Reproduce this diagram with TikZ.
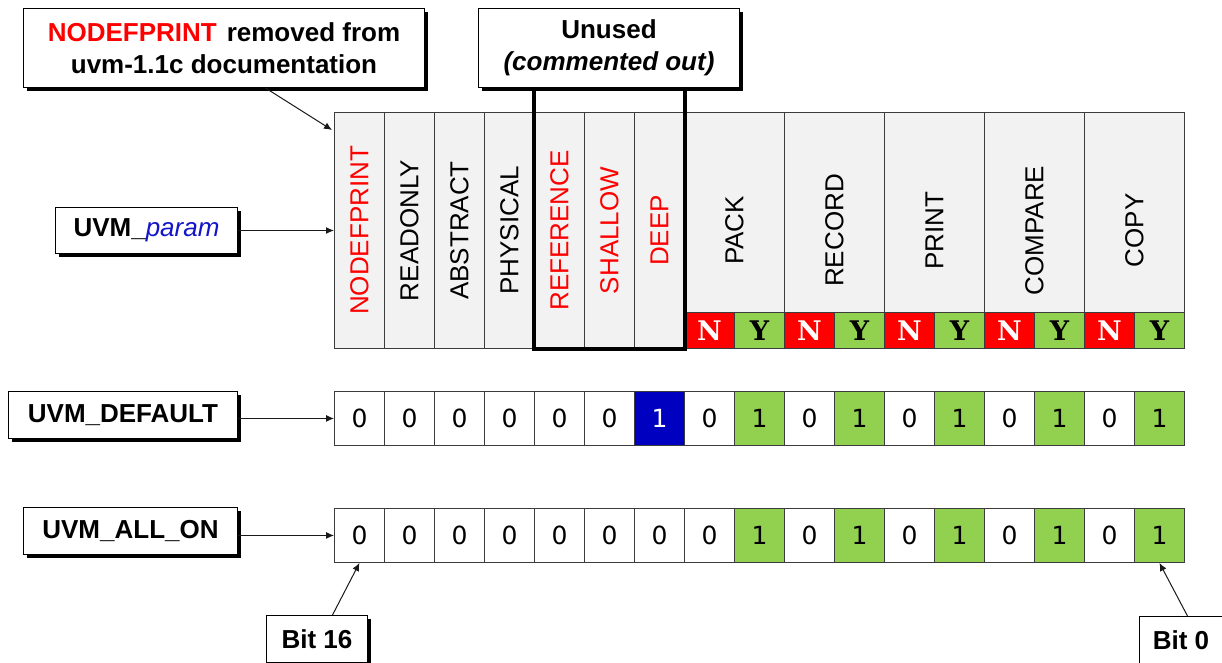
\documentclass[tikz,border=0pt]{standalone}
\usepackage{fontspec}
\setmainfont{Liberation Sans}
\newfontfamily\nyfont{DejaVu Serif}
\newfontfamily\bitfont{DejaVu Sans}
\usetikzlibrary{shadows,arrows.meta,calc}
\definecolor{cgreen}{RGB}{146,208,80}
\definecolor{cred}{RGB}{255,0,0}
\definecolor{cblue}{RGB}{0,0,192}
\definecolor{cgray}{RGB}{242,242,242}
\definecolor{cline}{RGB}{60,60,60}
\definecolor{ptxt}{RGB}{20,20,200}
\begin{document}
\begin{tikzpicture}[x=1pt,y=-1pt,
  labelbox/.style={draw=black, line width=1pt, fill=white, inner sep=0pt, align=center,
    anchor=north west, font=\bfseries\fontsize{26}{32}\selectfont,
    general shadow={fill=black, shadow xshift=3.5pt, shadow yshift=-3.5pt}},
  hcell/.style={draw=cline, line width=0.9pt, fill=cgray, inner sep=0pt, anchor=north west},
  htext/.style={rotate=90, inner sep=0pt, font=\fontsize{26}{30}\selectfont},
  nycell/.style={draw=cline, line width=0.9pt, inner sep=0pt, anchor=north west,
    minimum width=50pt, minimum height=36pt, font=\nyfont\bfseries\fontsize{27}{27}\selectfont},
  ncell/.style={nycell, fill=cred, text=white},
  ycell/.style={nycell, fill=cgreen, text=black},
  bitcell/.style={draw=cline, line width=0.9pt, inner sep=0pt, anchor=north west,
    minimum width=50pt, minimum height=54pt, font=\bitfont\fontsize{25}{25}\selectfont},
  bw/.style={fill=white}, bg/.style={fill=cgreen}, bb/.style={fill=cblue, text=white},
  conn/.style={draw=black!90, line width=1pt, -{Latex[length=8pt,width=7pt]}},
  thickbox/.style={line width=4pt, draw=black}
]
\useasboundingbox (0,0) rectangle (1222,662);
\clip (0,0) rectangle (1222,662);

% header: narrow columns
\foreach \lab/\col [count=\i from 0] in {NODEFPRINT/cred, READONLY/black, ABSTRACT/black, PHYSICAL/black, REFERENCE/cred, SHALLOW/cred, DEEP/cred}{
  \node[hcell, minimum width=50pt, minimum height=236pt] (h\i) at ({334+50*\i},112) {};
  \node[htext, text=\col] (ht\i) at (h\i.center) {\lab};
}
% header: wide columns with N/Y
\foreach \lab [count=\j from 0] in {PACK, RECORD, PRINT, COMPARE, COPY}{
  \node[hcell, minimum width=100pt, minimum height=200pt] (H\j) at ({684+100*\j},112) {};
  \node[htext] (Ht\j) at (H\j.center |- h0.center) {\lab};
  \node[ncell] (N\j) at ({684+100*\j},312) {N};
  \node[ycell] (Y\j) at ({734+100*\j},312) {Y};
}

% bit rows
\foreach \v/\s [count=\k from 0] in {0/bw,0/bw,0/bw,0/bw,0/bw,0/bw,1/bb,0/bw,1/bg,0/bw,1/bg,0/bw,1/bg,0/bw,1/bg,0/bw,1/bg}{
  \node[bitcell,\s] (d\k) at ({334+50*\k},391) {\v};
}
\foreach \v/\s [count=\k from 0] in {0/bw,0/bw,0/bw,0/bw,0/bw,0/bw,0/bw,0/bw,1/bg,0/bw,1/bg,0/bw,1/bg,0/bw,1/bg,0/bw,1/bg}{
  \node[bitcell,\s] (a\k) at ({334+50*\k},508) {\v};
}

% label boxes
\node[labelbox, minimum width=401pt, minimum height=79pt] (nb) at (23,8)
  {\textcolor{cred}{NODEFPRINT}\hspace{10pt}removed from\\uvm-1.1c documentation};
\node[labelbox, minimum width=261pt, minimum height=79pt] (ub) at (478,8)
  {Unused\\\textit{(commented out)}};

% thick "unused" bracket
\draw[thickbox] (ub.south -| h4.west) -- (h4.south west) -- (h6.south east) -- (ub.south -| h6.east);

\node[labelbox, minimum width=182pt, minimum height=46pt] (pb) at (55,207)
  {UVM\_\textcolor{ptxt}{\mdseries\itshape param}};
\node[labelbox, minimum width=229pt, minimum height=47pt] (db) at (8,391) {UVM\_DEFAULT};
\node[labelbox, minimum width=214pt, minimum height=47pt] (ab) at (23,507) {UVM\_ALL\_ON};
\node[labelbox, minimum width=101pt, minimum height=47pt] (b16) at (266,615) {Bit 16};
\node[labelbox, minimum width=83pt, minimum height=47pt] (b0) at (1139,616) {Bit 0};

% connectors
\draw[conn] ([xshift=41.5pt]nb.south) -- ([shift={(-2pt,-18pt)}]h0.north west);
\draw[conn] (pb.east) -- (pb.east -| h0.west);
\draw[conn] (db.east |- d0.west) -- (d0.west);
\draw[conn] (ab.east |- a0.west) -- (a0.west);
\draw[conn] ([xshift=15.5pt]b16.north) -- (a0.south);
\draw[conn] ([xshift=6.5pt]b0.north) -- (a16.south);
\end{tikzpicture}
\end{document}
